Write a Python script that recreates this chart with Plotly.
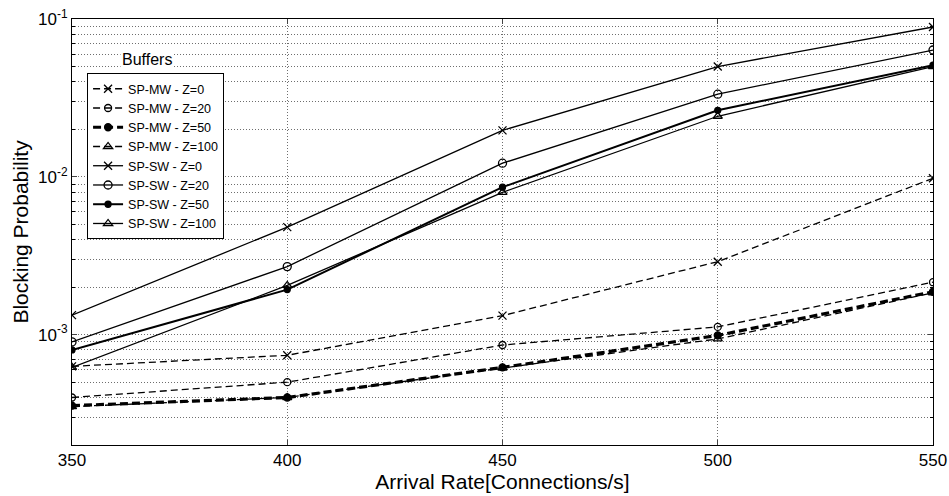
import plotly.graph_objects as go

arrival_rate = [350, 400, 450, 500, 550]

mw_z0 = [6.3e-4, 7.4e-4, 1.32e-3, 2.9e-3, 9.8e-3]
mw_z20 = [4.0e-4, 5.0e-4, 8.6e-4, 1.12e-3, 2.15e-3]
mw_z50 = [3.55e-4, 4.0e-4, 6.2e-4, 9.9e-4, 1.87e-3]
mw_z100 = [3.5e-4, 4.0e-4, 6.15e-4, 9.4e-4, 1.84e-3]

sw_z0 = [1.33e-3, 4.8e-3, 0.0197, 0.050, 0.089]
sw_z20 = [9.0e-4, 2.7e-3, 0.0122, 0.0334, 0.0636]
sw_z50 = [8.0e-4, 1.93e-3, 8.6e-3, 0.0264, 0.051]
sw_z100 = [6.2e-4, 2.05e-3, 7.98e-3, 0.0242, 0.050]

labels = ["SP-MW - Z=0", "SP-MW - Z=20", "SP-MW - Z=50", "SP-MW - Z=100",
          "SP-SW - Z=0", "SP-SW - Z=20", "SP-SW - Z=50", "SP-SW - Z=100"]
y_tick_vals = [1e-3, 1e-2, 1e-1]
y_tick_text = ["10<sup>-3</sup>", "10<sup>-2</sup>", "10<sup>-1</sup>"]
x_tick_vals = [350, 400, 450, 500, 550]

series = [mw_z0, mw_z20, mw_z50, mw_z100, sw_z0, sw_z20, sw_z50, sw_z100]
styles = [
    dict(dash="7px,4px", width=1.3, symbol="x-thin-open", size=8),
    dict(dash="7px,4px", width=1.3, symbol="circle-open", size=7),
    dict(dash="8px,4px", width=3.2, symbol="circle", size=7),
    dict(dash="7px,4px", width=1.3, symbol="triangle-up-open", size=8),
    dict(dash="solid", width=1.3, symbol="x-thin-open", size=8),
    dict(dash="solid", width=1.3, symbol="circle-open", size=8),
    dict(dash="solid", width=2.0, symbol="circle", size=6),
    dict(dash="solid", width=1.3, symbol="triangle-up-open", size=8),
]

fig = go.Figure()
for name, ys, st in zip(labels, series, styles):
    fig.add_trace(go.Scatter(
        x=arrival_rate, y=ys, name=name, mode="lines+markers",
        line=dict(color="black", width=st["width"], dash=st["dash"]),
        marker=dict(symbol=st["symbol"], size=st["size"], color="black",
                    line=dict(color="black", width=1.3)),
    ))

minor_vals = []
for e in [1e-4, 1e-3, 1e-2]:
    for k in range(2, 10):
        minor_vals.append(k * e)

grid = "#6e6e6e"
gdash = "1px,2px"
fig.update_layout(
    width=949, height=496,
    margin=dict(l=72, r=16, t=19, b=51, autoexpand=False),
    paper_bgcolor="white", plot_bgcolor="white",
    font=dict(family="Liberation Sans, Arial, sans-serif", color="black", size=16),
    showlegend=True,
    legend=dict(x=0.0175, y=0.873, xanchor="left", yanchor="top",
                bordercolor="black", borderwidth=1, bgcolor="white",
                font=dict(size=12.5), tracegroupgap=0, itemwidth=30),
    annotations=[dict(text="Buffers", x=0.056, y=0.904, xref="paper", yref="paper",
                      xanchor="left", yanchor="middle", showarrow=False,
                      bgcolor="white", font=dict(size=16))],
)
fig.update_xaxes(
    range=[350, 550], tickvals=x_tick_vals, ticks="inside", ticklen=5,
    showline=True, linecolor="black", linewidth=1, mirror="ticks",
    showgrid=True, gridcolor=grid, griddash=gdash, gridwidth=1,
    zeroline=False, tickfont=dict(size=17), ticklabeloverflow="allow",
    automargin=False,
    title=dict(text="Arrival Rate[Connections/s]", font=dict(size=21), standoff=3),
)
fig.update_yaxes(
    type="log", range=[-3.699, -1], tickmode="array",
    tickvals=y_tick_vals, ticktext=y_tick_text, ticks="inside", ticklen=5,
    showline=True, linecolor="black", linewidth=1, mirror="ticks",
    showgrid=True, gridcolor=grid, griddash=gdash, gridwidth=1,
    zeroline=False, tickfont=dict(size=17), ticklabeloverflow="allow",
    automargin=False,
    minor=dict(tickmode="array", tickvals=minor_vals, ticks="inside", ticklen=3,
               tickcolor="black", showgrid=True, gridcolor=grid, griddash=gdash, gridwidth=1),
    title=dict(text="Blocking Probability", font=dict(size=21), standoff=3),
)

fig.write_html(
    "out.html",
    config={"displayModeBar": False},
    post_script="document.body.style.margin='0';document.body.style.overflow='hidden';",
)
